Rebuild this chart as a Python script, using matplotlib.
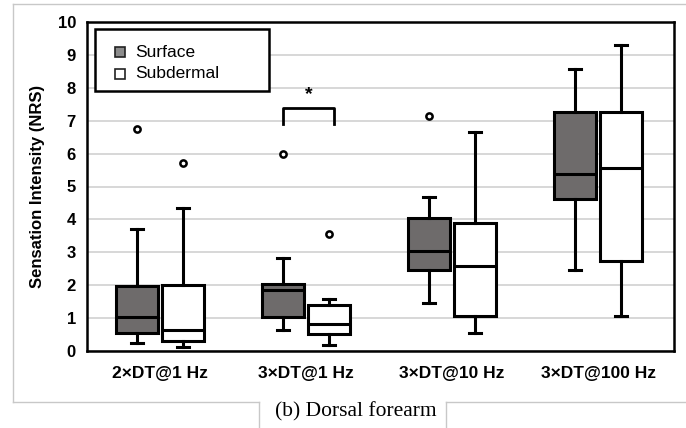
import matplotlib
matplotlib.use("Agg")
import matplotlib.pyplot as plt
from matplotlib.lines import Line2D
from matplotlib.patches import Rectangle

categories = ["2×DT@1 Hz", "3×DT@1 Hz", "3×DT@10 Hz", "3×DT@100 Hz"]
series = ["Surface", "Subdermal"]

surf_whislo = [0.24, 0.63, 1.45, 2.46]
surf_q1 = [0.56, 1.02, 2.47, 4.61]
surf_med = [1.03, 1.84, 3.03, 5.37]
surf_q3 = [1.97, 2.05, 4.05, 7.27]
surf_whishi = [3.72, 2.83, 4.68, 8.58]
surf_fliers = [[6.76], [6.0], [7.15], []]

sub_whislo = [0.11, 0.19, 0.55, 1.05]
sub_q1 = [0.29, 0.53, 1.05, 2.74]
sub_med = [0.65, 0.81, 2.58, 5.56]
sub_q3 = [2.02, 1.41, 3.90, 7.27]
sub_whishi = [4.36, 1.57, 6.66, 9.31]
sub_fliers = [[5.70], [3.57], [], []]

yticks = list(range(0, 11))
ylabel = "Sensation Intensity (NRS)"
caption = "(b) Dorsal forearm"
bracket_y = 7.40
bracket_leg = 6.91
star_y = 7.80

W, H = 686, 428
fig = plt.figure(figsize=(W / 100, H / 100), dpi=100)
ax = fig.add_axes([87 / W, 1 - 351 / H, (674 - 87) / W, (351 - 22) / H])

def stats(wl, q1, md, q3, wh, fl):
    return [dict(whislo=a, q1=b, med=c, q3=d, whishi=e, fliers=f)
            for a, b, c, d, e, f in zip(wl, q1, md, q3, wh, fl)]

off = 0.157
bw = 0.29
pos = list(range(len(categories)))
lw = 2.2
flierprops = dict(marker="o", markersize=4.5, markerfacecolor="white",
                  markeredgecolor="black", markeredgewidth=1.8)
common = dict(widths=bw, patch_artist=True, capwidths=0.085,
              whiskerprops=dict(color="black", linewidth=lw),
              capprops=dict(color="black", linewidth=lw),
              medianprops=dict(color="black", linewidth=lw),
              flierprops=flierprops, manage_ticks=False, zorder=3)

ax.bxp(stats(surf_whislo, surf_q1, surf_med, surf_q3, surf_whishi, surf_fliers),
       positions=[p - off for p in pos],
       boxprops=dict(facecolor="#6e6b6b", edgecolor="black", linewidth=lw), **common)
ax.bxp(stats(sub_whislo, sub_q1, sub_med, sub_q3, sub_whishi, sub_fliers),
       positions=[p + off for p in pos],
       boxprops=dict(facecolor="white", edgecolor="black", linewidth=lw), **common)

sans = "Liberation Sans"
ax.set_xlim(-0.5, 3.52)
ax.set_ylim(0, 10)
ax.set_yticks(yticks)
ax.set_yticklabels([str(t) for t in yticks], fontweight="bold", fontsize=12, family=sans)
ax.set_xticks(pos)
ax.set_xticklabels(categories, fontweight="bold", fontsize=12.5, family=sans)
ax.tick_params(length=0)
ax.tick_params(axis="x", pad=11)
ax.tick_params(axis="y", pad=8)
ax.yaxis.grid(True, color="#d4d4d4", linewidth=1.3, zorder=0)
ax.set_axisbelow(True)
for s in ax.spines.values():
    s.set_linewidth(1.8)
    s.set_color("black")
ax.set_ylabel(ylabel, fontweight="bold", fontsize=12, family=sans, labelpad=9)

# significance bracket
x0, x1 = 1 - off, 1 + 0.19
ax.plot([x0, x0, x1, x1], [bracket_leg, bracket_y, bracket_y, bracket_leg],
        color="black", linewidth=2.0, zorder=4)
ax.text((x0 + x1) / 2, star_y, "*", ha="center", va="center", fontsize=14,
        fontweight="bold", family=sans)

# legend (drawn manually in axes coordinates)
ax.add_patch(Rectangle((0.0136, 0.790), 0.2965, 0.1887, transform=ax.transAxes,
                       facecolor="white", edgecolor="black", linewidth=1.8, zorder=5))
leg_fc = ["#8c8c8c", "white"]
leg_y = [0.9088, 0.842]
for name, fc_, yy in zip(series, leg_fc, leg_y):
    ax.plot([0.0562], [yy], marker="s", markersize=7, markerfacecolor=fc_,
            markeredgecolor="#222222", markeredgewidth=1.2, transform=ax.transAxes,
            zorder=6, clip_on=False)
    ax.text(0.0818, yy, name, transform=ax.transAxes, va="center", ha="left",
            fontsize=12.5, family=sans, zorder=6)

# outer frame and caption box
fc = "#c8c8c8"
def fline(xs, ys):
    fig.add_artist(Line2D([x / W for x in xs], [1 - y / H for y in ys],
                          color=fc, linewidth=1.0, transform=fig.transFigure))
fline([13, 686], [4, 4])
fline([13, 13], [4, 402])
fline([13, 259], [402, 402])
fline([259, 259], [402, 428])
fline([446, 446], [402, 428])
fline([446, 686], [402, 402])

fig.text(356 / W, 1 - 412 / H, caption, ha="center", va="center",
         fontsize=15.5, family="Liberation Serif")

fig.savefig("out.png", dpi=100)
